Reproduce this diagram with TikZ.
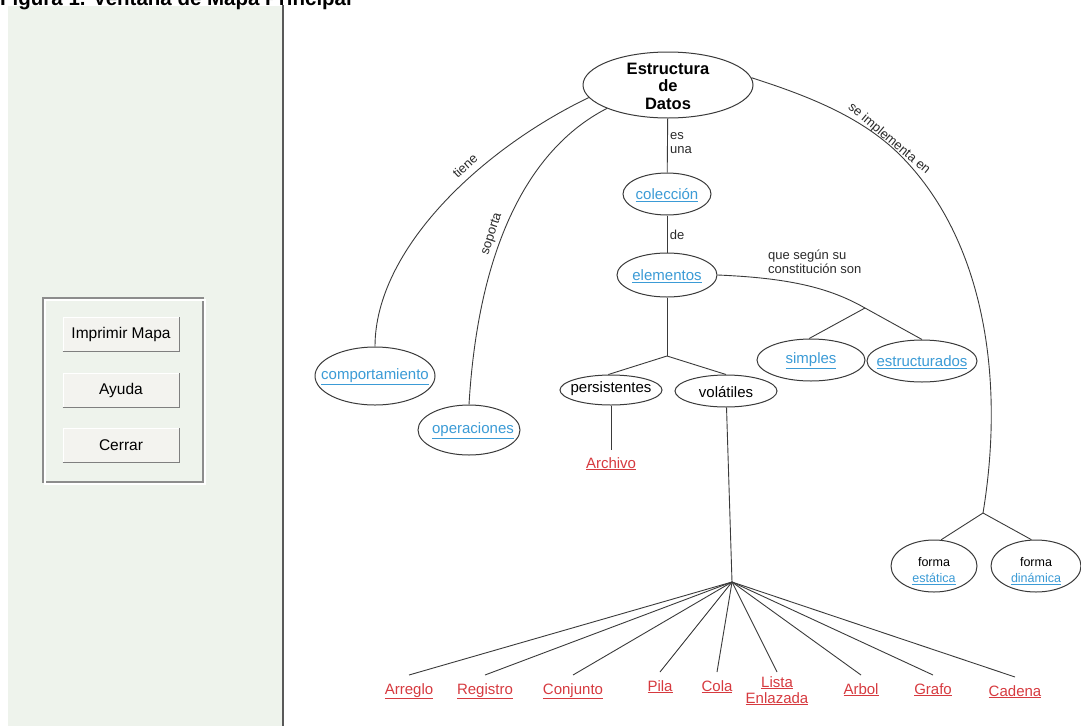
\documentclass[tikz,border=0pt]{standalone}
\usepackage{fontspec}
\setmainfont{Liberation Sans}
\usetikzlibrary{shapes.geometric}
\definecolor{panel}{HTML}{EEF3EC}
\definecolor{linkblue}{HTML}{3B9BD6}
\definecolor{linkred}{HTML}{D63A3F}
\definecolor{edge}{HTML}{3A3A3A}
\definecolor{btn}{HTML}{F3F3EF}
\definecolor{btnshade}{HTML}{7F7F7F}
\definecolor{lblgray}{HTML}{2A2A2A}
\newcommand{\lk}[1]{\underline{#1}}
\tikzset{
  conn/.style={draw=edge, line width=0.9pt},
  ell/.style={ellipse, draw=edge, line width=1pt, fill=white, inner sep=0pt},
  txt/.style={inner sep=0pt, font=\fontsize{15}{17}\selectfont},
  bluetxt/.style={txt, text=linkblue},
  leaf/.style={anchor=north, inner sep=8pt, text=linkred, font=\fontsize{15}{16}\selectfont, align=center},
  lbl/.style={inner sep=0pt, text=lblgray, font=\fontsize{13}{14}\selectfont},
  btnbox/.style={fill=btn, draw=white, line width=1pt, minimum width=116pt, minimum height=34pt, inner sep=0pt, font=\fontsize{15.5}{17}\selectfont},
  btnshadow/.style={draw=btnshade, line width=1.5pt}
}
\begin{document}
\begin{tikzpicture}[x=1pt,y=-1pt]
\useasboundingbox (0,0) rectangle (1081,726);
\clip (0,0) rectangle (1081,726);
% left panel
\fill[panel] (8,6) rectangle (283,726);
\draw[draw=black!65, line width=2pt] (283,5) -- (283,726);
\node[anchor=base west, inner sep=0pt, font=\bfseries\fontsize{20.5}{22}\selectfont] (title) at (0,5) {Figura 1. Ventana de Mapa Principal};
% group box
\draw[draw=black!45, line width=1.2pt] (43,298) rectangle (203,482);
\draw[draw=white, line width=1.2pt] (45,300) rectangle (205,484);
% buttons
\node[btnbox] (imp) at (121,334) {Imprimir Mapa};
\node[btnbox] (ayu) at (121,390) {Ayuda};
\node[btnbox] (cer) at (121,445) {Cerrar};
\foreach \b in {imp,ayu,cer}{
  \draw[btnshadow] (\b.south west) -- (\b.south east) -- (\b.north east);
}
% concept nodes
\node[ell, minimum width=170pt, minimum height=66pt] (sd) at (668,85) {};
\node[inner sep=0pt, align=center, font=\bfseries\fontsize{16.5}{17.5}\selectfont] (sdt) at (668,86) {Estructura\\de\\Datos};
\node[ell, minimum width=88pt, minimum height=42pt] (col) at (667,194) {};
\node[bluetxt] (colt) at (667,195) {\lk{colección}};
\node[ell, minimum width=100pt, minimum height=44pt] (el) at (667,275) {};
\node[bluetxt] (elt) at (667,276) {\lk{elementos}};
\node[ell, minimum width=120pt, minimum height=58pt] (comp) at (375,376) {};
\node[bluetxt] (compt) at (375,377) {\lk{comportamiento}};
\node[ell, minimum width=102pt, minimum height=50pt] (ops) at (469,430) {};
\node[bluetxt] (opst) at (473,431) {\lk{operaciones}};
\node[ell, minimum width=102pt, minimum height=30pt] (pers) at (611,390) {};
\node[txt] (perst) at (611,389) {persistentes};
\node[ell, minimum width=102pt, minimum height=32pt] (vol) at (726,391) {};
\node[txt] (volt) at (726,392) {volátiles};
\node[ell, minimum width=108pt, minimum height=42pt] (sim) at (811,360) {};
\node[bluetxt] (simt) at (811,361) {\lk{simples}};
\node[ell, minimum width=110pt, minimum height=42pt] (est) at (922,361) {};
\node[bluetxt] (estt) at (922,362) {\lk{estructurados}};
\node[ell, minimum width=86pt, minimum height=52pt] (fe) at (934,566) {};
\node[inner sep=0pt, align=center, font=\fontsize{12.5}{16}\selectfont] (fet) at (934,571) {forma\\\textcolor{linkblue}{\lk{estática}}};
\node[ell, minimum width=90pt, minimum height=52pt] (fd) at (1036,566) {};
\node[inner sep=0pt, align=center, font=\fontsize{12.5}{16}\selectfont] (fdt) at (1036,571) {forma\\\textcolor{linkblue}{\lk{dinámica}}};
% junctions
\coordinate (jel) at (667,356);
\coordinate (jsc) at (865,308);
\coordinate (jimp) at (983,513);
\coordinate (hub) at (732,582);
\coordinate (bend) at (900,155);
% leaves
\node[leaf, inner sep=7pt] (arch) at (611,450) {\lk{Archivo}};
\node[leaf] (arr) at (409,675) {\lk{Arreglo}};
\node[leaf] (reg) at (485,675) {\lk{Registro}};
\node[leaf] (con) at (573,675) {\lk{Conjunto}};
\node[leaf] (pila) at (660,672) {\lk{Pila}};
\node[leaf] (cola) at (717,672) {\lk{Cola}};
\node[leaf, inner sep=4pt] (lis) at (777,672) {\lk{Lista}\\\lk{Enlazada}};
\node[leaf] (arb) at (861,675) {\lk{Arbol}};
\node[leaf] (gra) at (933,675) {\lk{Grafo}};
\node[leaf] (cad) at (1015,677) {\lk{Cadena}};
% connector labels
\node[lbl, anchor=west, align=left] (esuna) at (670,143) {es\\una};
\node[lbl] (de) at (677,235) {de};
\node[lbl, anchor=north west, align=left] (qss) at (768,250) {que según su\\constitución son};
\node[lbl, rotate=42] (tiene) at (465,166) {tiene};
\node[lbl, rotate=72] (sop) at (492,234) {soporta};
\node[lbl, rotate=-40] (impl) at (889,139) {se implementa en};
% connectors
\draw[conn] (sd) -- (col);
\draw[conn] (col) -- (el);
\draw[conn] (el) -- (jel);
\draw[conn] (jel) -- (pers.100);
\draw[conn] (jel) -- (vol.north);
\draw[conn] (pers) -- (arch);
\draw[conn] (vol) -- (hub);
\draw[conn] (el.east) .. controls (790,278) and (830,288) .. (jsc);
\draw[conn] (jsc) -- (sim.95);
\draw[conn] (jsc) -- (est.north);
\draw[conn] (sd.189) .. controls (480,150) and (375,250) .. (comp.north);
\draw[conn] (sd.201) .. controls (545,140) and (480,220) .. (ops.north);
\draw[conn] (sd.5) .. controls (802,94) and (860,115) .. (bend) .. controls (985,240) and (1005,380) .. (jimp);
\draw[conn] (jimp) -- (fe.75);
\draw[conn] (jimp) -- (fd.100);
\foreach \l in {arr,reg,con,pila,cola,lis,arb,gra,cad}{
  \draw[conn] (hub) -- (\l.north);
}
\end{tikzpicture}
\end{document}
